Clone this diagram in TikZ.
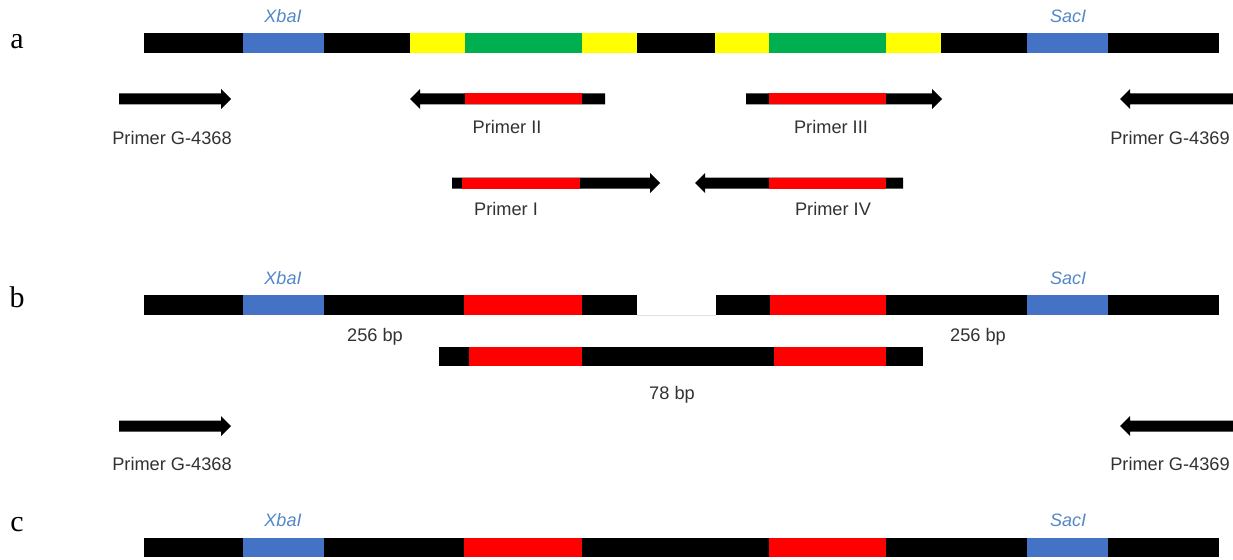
\documentclass[tikz,border=0pt]{standalone}
\usepackage{fontspec}
\setmainfont{Liberation Sans}
\newfontfamily\panelfont{Liberation Serif}

\definecolor{siteblue}{RGB}{68,114,196}
\definecolor{sitetext}{RGB}{84,135,200}
\definecolor{flankyellow}{RGB}{255,255,0}
\definecolor{coregreen}{RGB}{0,176,80}
\definecolor{probered}{RGB}{255,0,0}
\definecolor{labelgray}{RGB}{50,50,50}

\tikzset{
  lbl/.style={text=labelgray, font=\fontsize{18.2}{21}\selectfont, inner sep=0pt},
  site/.style={text=sitetext, font=\fontsize{18}{21}\selectfont\itshape, inner sep=0pt},
  panel/.style={font=\panelfont\fontsize{30}{32}\selectfont, inner sep=0pt},
  shaft/.style={fill=black, line join=round},
}

% block arrow pointing right: tail x, tip x, centre y
\newcommand\dnaArrowR[3]{%
  \fill[shaft] (#1,{#3-5.5}) -- ({#2-10},{#3-5.5}) -- ({#2-10},{#3-10}) -- (#2,#3)
    -- ({#2-10},{#3+10}) -- ({#2-10},{#3+5.5}) -- (#1,{#3+5.5}) -- cycle;}
% block arrow pointing left: tip x, tail x, centre y
\newcommand\dnaArrowL[3]{%
  \fill[shaft] (#2,{#3-5.5}) -- ({#1+10},{#3-5.5}) -- ({#1+10},{#3-10}) -- (#1,#3)
    -- ({#1+10},{#3+10}) -- ({#1+10},{#3+5.5}) -- (#2,{#3+5.5}) -- cycle;}
% red probe region on a primer shaft
\newcommand\probe[3]{\fill[probered] (#1,{#3-5.5}) rectangle (#2,{#3+5.5});}

\begin{document}
\begin{tikzpicture}[x=1pt,y=-1pt]
\useasboundingbox (0,0) rectangle (1233,559);

% ---------------- panel a ----------------
\node[panel] (pa) at (17,42) {a};
\foreach \l/\r/\c in {144/243/black, 243/324/siteblue, 324/410/black,
  410/465/flankyellow, 465/582/coregreen, 582/637/flankyellow, 637/715/black,
  715/769/flankyellow, 769/886/coregreen, 886/941/flankyellow, 941/1027/black,
  1027/1108/siteblue, 1108/1219/black}
  \fill[\c] (\l,33) rectangle (\r,53);
\node[site] (xa) at (283,16) {XbaI};
\node[site] (sa) at (1068,16) {SacI};

\dnaArrowR{119}{231}{99}
\node[lbl] (g68a) at (172,138) {Primer G-4368};
\dnaArrowL{1120}{1233}{99}
\node[lbl] (g69a) at (1170,138) {Primer G-4369};

\dnaArrowL{410}{605}{99}
\probe{465}{582}{99}
\node[lbl] (p2) at (507,127) {Primer II};

\dnaArrowR{746}{942}{99}
\probe{769}{886}{99}
\node[lbl] (p3) at (831,127) {Primer III};

\dnaArrowR{452}{660}{183}
\probe{462}{580}{183}
\node[lbl] (p1) at (506,209) {Primer I};

\dnaArrowL{695}{903}{183}
\probe{769}{886}{183}
\node[lbl] (p4) at (833,209) {Primer IV};

% ---------------- panel b ----------------
\node[panel] (pb) at (17,297) {b};
\foreach \l/\r/\c in {144/243/black, 243/324/siteblue, 324/464/black,
  464/582/probered, 582/637/black, 716/770/black, 770/886/probered,
  886/1027/black, 1027/1108/siteblue, 1108/1219/black}
  \fill[\c] (\l,295) rectangle (\r,315);
\coordinate (gapL) at (637,315);
\coordinate (gapR) at (716,315);
\draw[black!12, line width=0.8pt] (gapL) -- (gapR);
\node[site] (xb) at (283,278) {XbaI};
\node[site] (sb) at (1068,278) {SacI};
\node[lbl] (bpl) at (375,337) {256 bp};
\node[lbl] (bpr) at (978,337) {256 bp};

\foreach \l/\r/\c in {439/469/black, 469/582/probered, 582/774/black,
  774/886/probered, 886/923/black}
  \fill[\c] (\l,347) rectangle (\r,366);
\node[lbl] (bpm) at (672,395) {78 bp};

\dnaArrowR{119}{231}{426}
\node[lbl] (g68b) at (172,464) {Primer G-4368};
\dnaArrowL{1120}{1233}{426}
\node[lbl] (g69b) at (1170,464) {Primer G-4369};

% ---------------- panel c ----------------
\node[panel] (pc) at (17,525) {c};
\foreach \l/\r/\c in {144/243/black, 243/324/siteblue, 324/464/black,
  464/582/probered, 582/769/black, 769/886/probered, 886/1027/black,
  1027/1108/siteblue, 1108/1219/black}
  \fill[\c] (\l,538) rectangle (\r,557);
\node[site] (xc) at (283,520) {XbaI};
\node[site] (sc) at (1068,520) {SacI};
\end{tikzpicture}
\end{document}
